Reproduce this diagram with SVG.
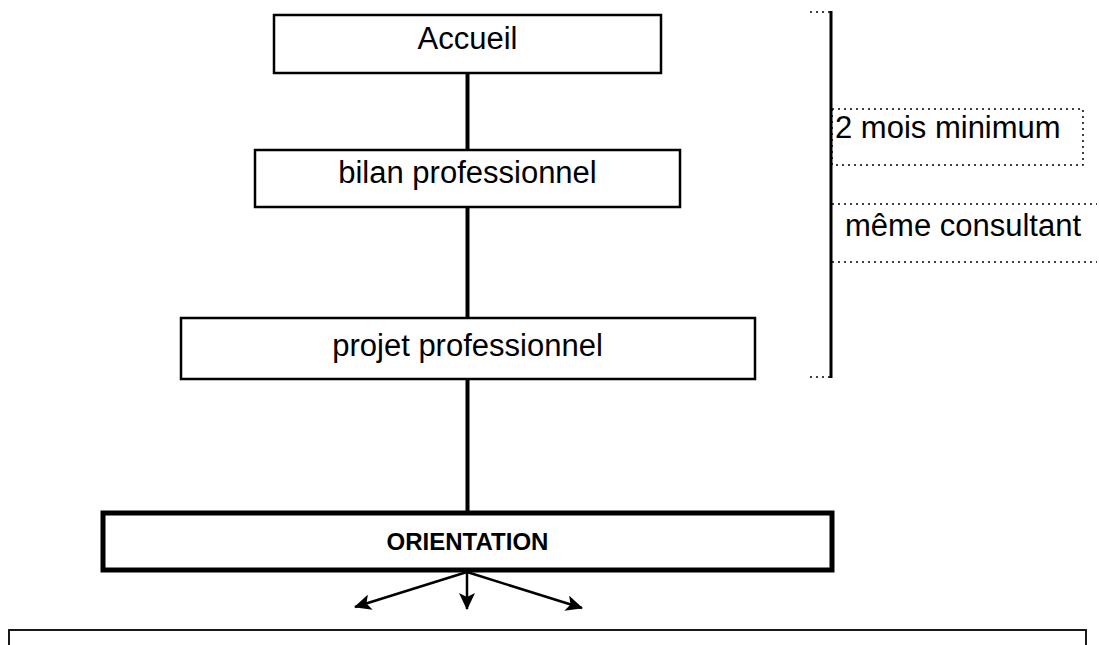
<svg xmlns="http://www.w3.org/2000/svg" width="1099" height="645" viewBox="0 0 1099 645">
<style>
.box{fill:#fff;stroke:#000;stroke-width:2.5}
.t{font-family:"Liberation Sans",Arial,sans-serif;font-size:31px;fill:#000}
.c{text-anchor:middle}
.b{font-weight:bold;font-size:24px}
.dot{fill:none;stroke:#000;stroke-width:1.5;stroke-dasharray:2 4}
.conn{stroke:#000;fill:none}
</style>
<defs>
<marker id="ah" markerWidth="18" markerHeight="16" refX="16" refY="8" orient="auto" markerUnits="userSpaceOnUse"><path d="M0,0 L17,8 L0,16 L4,8 Z" fill="#000"/></marker>
</defs>
<g id="connectors">
<line class="conn" x1="467.5" y1="73" x2="467.5" y2="150" stroke-width="4"/>
<line class="conn" x1="467.5" y1="207" x2="467.5" y2="318" stroke-width="4"/>
<line class="conn" x1="467.5" y1="379" x2="467.5" y2="512" stroke-width="4"/>
<line class="conn" x1="467" y1="572" x2="355" y2="607" stroke-width="2.5" marker-end="url(#ah)"/>
<line class="conn" x1="467" y1="572" x2="467" y2="609" stroke-width="2.5" marker-end="url(#ah)"/>
<line class="conn" x1="467" y1="572" x2="582" y2="608" stroke-width="2.5" marker-end="url(#ah)"/>
</g>
<g id="accueil">
<rect class="box" x="274" y="15" width="387" height="58"/>
<text class="t c" x="467.5" y="49">Accueil</text>
</g>
<g id="bilan">
<rect class="box" x="255" y="150" width="425" height="57"/>
<text class="t c" x="467.5" y="183">bilan professionnel</text>
</g>
<g id="projet">
<rect class="box" x="181" y="318" width="574" height="61"/>
<text class="t c" x="467.5" y="356">projet professionnel</text>
</g>
<g id="orientation">
<rect class="box" x="103" y="513" width="729" height="57" style="stroke-width:5"/>
<text class="t c b" x="467.5" y="550">ORIENTATION</text>
</g>
<g id="bottom-box">
<rect x="9" y="630" width="1077" height="40" fill="none" stroke="#000" stroke-width="1.8"/>
</g>
<g id="bracket">
<line x1="831" y1="11" x2="831" y2="378" stroke="#000" stroke-width="3"/>
<line class="dot" x1="810" y1="12" x2="830" y2="12"/>
<line class="dot" x1="810" y1="377" x2="830" y2="377"/>
</g>
<g id="duree">
<rect class="dot" x="832" y="109" width="251" height="56"/>
<text class="t" x="835" y="138">2 mois minimum</text>
</g>
<g id="consultant">
<line class="dot" x1="832" y1="204" x2="1097" y2="204"/>
<line class="dot" x1="832" y1="262" x2="1097" y2="262"/>
<text class="t" x="845" y="236">même consultant</text>
</g>
</svg>
